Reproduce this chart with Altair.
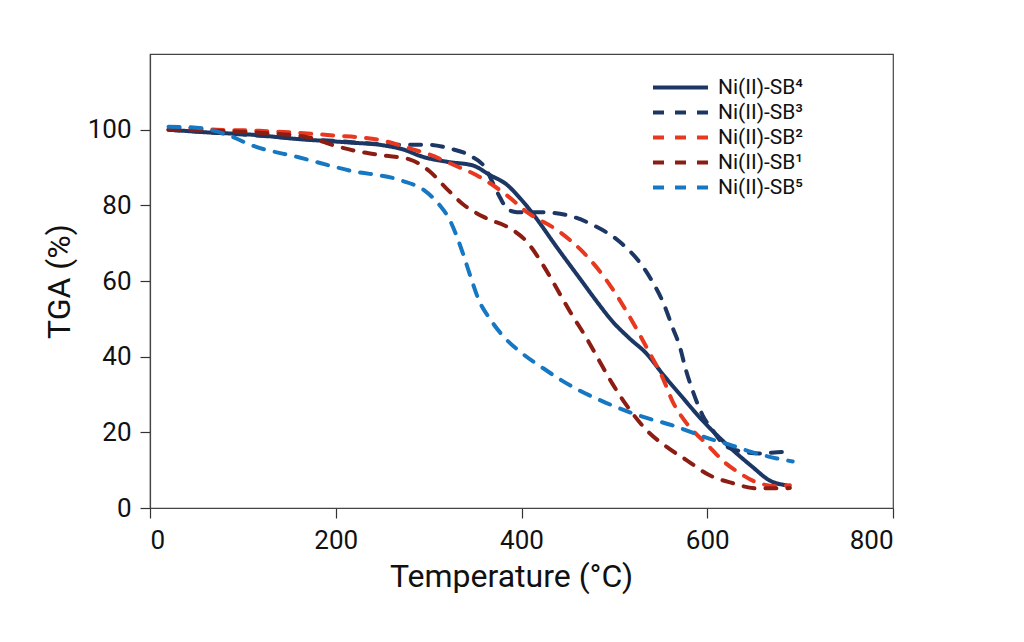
import altair as alt
import pandas as pd

# ---- data ----
sb4_t = [20, 60, 108, 160, 215, 250, 272, 294, 320, 348, 366, 384, 398, 409, 420, 434, 463, 481, 498, 516, 535, 552, 570, 595, 620, 649, 667, 685]
sb4_y = [100, 99.3, 98.7, 97.5, 96.6, 95.9, 94.8, 92.8, 91.5, 90.5, 88, 85.5, 82.0, 78.8, 75.2, 70.3, 60.6, 54.6, 49.3, 44.9, 40.7, 35.4, 30.2, 23.1, 17, 10.8, 7.3, 6]

sb3_t = [20, 100, 200, 270, 300, 323, 344, 362, 369, 377, 385, 395, 420, 449, 477, 506, 527, 541, 552, 563, 570, 577, 585, 595, 606, 617, 631, 656, 681, 690]
sb3_y = [100, 98.7, 97, 96, 96, 95, 93.2, 89.5, 86, 82, 79, 78.2, 78.2, 77.4, 74.8, 70.3, 65, 59.8, 54.6, 47.5, 43, 36.5, 30.5, 24.5, 20.5, 17, 15.3, 14.4, 14.8, 14.6]

sb2_t = [20, 30, 72, 118, 151, 201, 229, 251, 276, 300, 326, 355, 384, 406, 441, 466, 495, 513, 535, 552, 563, 578, 599, 620, 635, 653, 675, 689]
sb2_y = [100, 100.5, 100, 99.7, 99.3, 98.4, 97.9, 97.1, 95.3, 93.5, 90.8, 87.5, 82.7, 78.2, 73, 67.7, 59, 52, 42.3, 34.4, 28, 22.3, 17, 11.8, 9.2, 6.8, 5.8, 6]

sb1_t = [20, 72, 118, 172, 197, 223, 251, 280, 301, 319, 337, 362, 387, 406, 423, 438, 452, 470, 484, 498, 513, 535, 556, 578, 602, 627, 653, 681, 689]
sb1_y = [100, 99.7, 99.2, 97.9, 95.9, 94.3, 93.2, 92.1, 89, 84.5, 80.3, 76.6, 74, 70.3, 64.3, 58, 52, 44.9, 38.8, 32.8, 27.2, 20.5, 16.2, 12.6, 8.7, 6.6, 5.2, 5.2, 5.3]

sb5_t = [20, 50, 86, 108, 160, 215, 270, 295, 312, 322, 330, 338, 346, 354, 366, 380, 400, 423, 444, 463, 491, 527, 563, 599, 627, 649, 675, 692]
sb5_y = [100.8, 100.5, 98.4, 96, 92.7, 89.2, 86.6, 84, 80, 76.5, 72, 66.5, 60.5, 55, 50, 45.5, 41, 37, 33.6, 31, 27.8, 24.4, 21.8, 18.6, 16.5, 14.7, 13.1, 12.3]

series_names = ["Ni(II)-SB⁴", "Ni(II)-SB³", "Ni(II)-SB²", "Ni(II)-SB¹", "Ni(II)-SB⁵"]
series_colors = ["#1c3763", "#1c3763", "#e8381f", "#8c1d12", "#1677c2"]
series_dash = [[1, 0], [11, 11], [11, 11], [11, 11], [11, 11]]

x_ticks = [0, 200, 400, 600, 800]
y_ticks = [0, 20, 40, 60, 80, 100]

rows = []
for name, ts, ys in zip(series_names,
                        [sb4_t, sb3_t, sb2_t, sb1_t, sb5_t],
                        [sb4_y, sb3_y, sb2_y, sb1_y, sb5_y]):
    for i, (t, y) in enumerate(zip(ts, ys)):
        rows.append({"series": name, "T": t, "TGA": y, "order": i})
df = pd.DataFrame(rows)

FONT = "Roboto"

chart = alt.Chart(df).mark_line(
    strokeWidth=4, interpolate="monotone", strokeCap="round"
).encode(
    x=alt.X("T:Q", scale=alt.Scale(domain=[0, 800], nice=False),
            axis=alt.Axis(values=x_ticks, title="Temperature (°C)", titleX=361)),
    y=alt.Y("TGA:Q", scale=alt.Scale(domain=[0, 120], nice=False),
            axis=alt.Axis(values=y_ticks, title="TGA (%)")),
    color=alt.Color("series:N",
                    scale=alt.Scale(domain=series_names, range=series_colors),
                    sort=series_names,
                    legend=alt.Legend(title=None, orient="none", legendX=520, legendY=23,
                                      symbolType="M-5,0H5", symbolSize=121,
                                      symbolStrokeWidth=4, labelFontSize=21,
                                      labelFont=FONT, labelColor="#111",
                                      rowPadding=3, labelOffset=27,
                                      labelLimit=300)),
    strokeDash=alt.StrokeDash("series:N",
                              scale=alt.Scale(domain=series_names, range=series_dash),
                              sort=series_names, legend=None),
    order="order:Q",
).properties(
    width=743, height=454,
    padding={"left": 142, "top": 46, "right": 100, "bottom": 110},
    autosize=alt.AutoSizeParams(type="none"),
).configure_view(
    stroke="#444", strokeWidth=1.2
).configure_axis(
    grid=False, domainColor="#444", domainWidth=1.2,
    tickColor="#333", tickSize=10, tickWidth=1.2,
    labelFont=FONT, labelFontSize=26, labelColor="#111", labelPadding=9,
    titleFont=FONT, titleFontSize=32, titleFontWeight="normal", titleColor="#111",
).configure_axisX(titlePadding=8).configure_axisY(titlePadding=11)

chart.save("out.html", embed_options={"renderer": "svg", "actions": False})
